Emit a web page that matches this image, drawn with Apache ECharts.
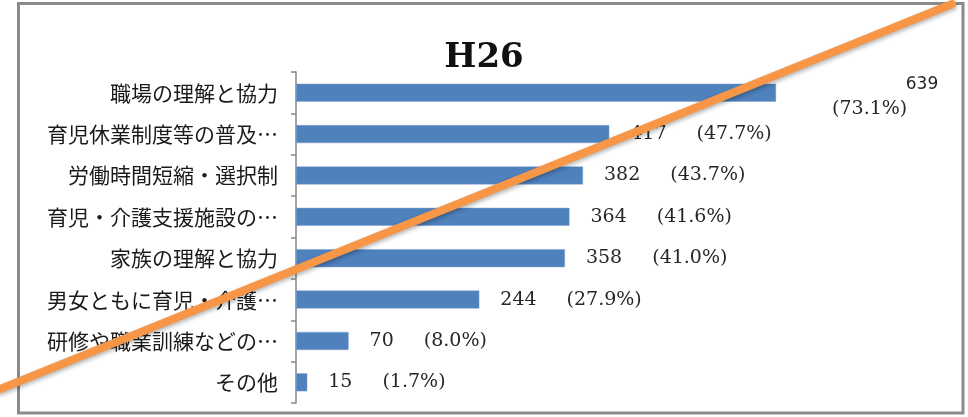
<!DOCTYPE html>
<html>
<head>
<meta charset="utf-8">
<script src="https://cdn.jsdelivr.net/npm/echarts@6/dist/echarts.min.js"></script>
<style>
    html, body { margin: 0; padding: 0; background: #fff; }
    #chart { width: 968px; height: 417px; }
</style>
</head>
<body>
<div id="chart"></div>
<script>
// 項目（上から順）
let categories = ['職場の理解と協力', '育児休業制度等の普及…', '労働時間短縮・選択制', '育児・介護支援施設の…',
    '家族の理解と協力', '男女ともに育児・介護…', '研修や職業訓練などの…', 'その他'];
// 回答数
let counts = [639, 417, 382, 364, 358, 244, 70, 15];
// 割合（%）
let shares = ['73.1', '47.7', '43.7', '41.6', '41.0', '27.9', '8.0', '1.7'];

let myChart = echarts.init(document.getElementById('chart'));

let serif = "'DejaVu Serif', 'Liberation Serif', serif";

// 先頭だけラベルが2行（数値の下に割合）
let barData = counts.map((v, i) => {
    if (i !== 0) {
        return v;
    }
    return {
        value: v,
        label: {
            distance: 56,
            offset: [0, 4],
            formatter: (p) => '{n|' + p.value + '}\n{q|(' + shares[p.dataIndex] + '%)}',
            rich: {
                n: { align: 'right', fontFamily: "'DejaVu Sans', sans-serif", fontSize: 17, color: '#262626', lineHeight: 24 },
                q: { align: 'right', fontFamily: serif, fontSize: 19, color: '#262626', lineHeight: 24, padding: [0, 31, 0, 0] }
            }
        }
    };
});

let option = {
    animation: false,
    backgroundColor: '#fff',
    title: {
        text: 'H26',
        left: 'center',
        top: 36,
        textStyle: {
            fontFamily: serif,
            fontWeight: 'bold',
            fontSize: 34,
            color: '#111'
        }
    },
    grid: {
        left: 296,
        top: 72,
        width: 601,
        height: 331
    },
    xAxis: {
        type: 'value',
        min: 0,
        max: 800,
        show: false
    },
    yAxis: {
        type: 'category',
        inverse: true,
        data: categories,
        axisLine: {
            show: true,
            lineStyle: { color: '#868686', width: 1.5 }
        },
        axisTick: {
            show: true,
            length: 5,
            lineStyle: { color: '#868686', width: 1.5 }
        },
        axisLabel: {
            margin: 18,
            fontFamily: "'Noto Sans CJK JP', sans-serif",
            fontSize: 21,
            color: '#1a1a1a'
        },
        splitLine: { show: false }
    },
    series: [{
        name: '回答数',
        type: 'bar',
        barWidth: 18,
        data: barData,
        itemStyle: {
            color: '#4F81BD',
            borderColor: '#7fa3d0',
            borderWidth: 0.5
        },
        label: {
            show: true,
            position: 'right',
            distance: 21,
            formatter: (p) => '{v|' + p.value + '}{q|(' + shares[p.dataIndex] + '%)}',
            rich: {
                v: { fontFamily: serif, fontSize: 19, color: '#262626' },
                q: { fontFamily: serif, fontSize: 19, color: '#262626', padding: [0, 0, 0, 30] }
            }
        }
    }],
    graphic: [
        {
            // 外枠
            type: 'rect',
            z: 50,
            shape: { x: 18.5, y: 3.5, width: 944.5, height: 409.5 },
            style: { fill: 'none', stroke: '#8a8a8a', lineWidth: 3 }
        },
        {
            // 斜線
            type: 'line',
            z: 100,
            shape: { x1: 0, y1: 389, x2: 952, y2: 4 },
            style: {
                stroke: '#F79646',
                lineWidth: 8,
                lineCap: 'round',
                shadowColor: 'rgba(0,0,0,0.3)',
                shadowBlur: 4,
                shadowOffsetX: 1,
                shadowOffsetY: 2
            }
        }
    ]
};
myChart.setOption(option);
</script>
</body>
</html>
